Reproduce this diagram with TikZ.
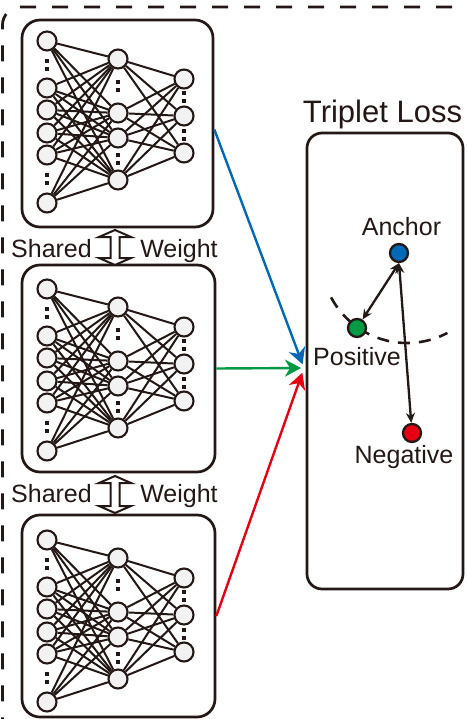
\documentclass[tikz,border=0pt]{standalone}
\usepackage{fontspec}
\setmainfont{Liberation Sans}
\usetikzlibrary{arrows.meta,calc}
\definecolor{ink}{HTML}{231815}
\definecolor{nfill}{HTML}{F2F2F2}
\definecolor{cblue}{HTML}{0068B7}
\definecolor{cgreen}{HTML}{009944}
\definecolor{cred}{HTML}{E60012}
\newcommand\mynet[2]{%
  \foreach \yy [count=\i] in {41,88,110,133,155,203}
    \node[neuron] (#1a\i) at (47,#2+\yy) {};
  \foreach \yy [count=\i] in {59,113,138,180}
    \node[neuron] (#1b\i) at (118,#2+\yy) {};
  \foreach \yy [count=\i] in {79,116,153}
    \node[neuron] (#1c\i) at (184,#2+\yy) {};
  \foreach \i in {1,...,6}{\foreach \j in {1,...,4}{\draw[conn] (#1a\i) -- (#1b\j);}}
  \foreach \i in {1,...,4}{\foreach \j in {1,...,3}{\draw[conn] (#1b\i) -- (#1c\j);}}
  \foreach \xx/\yy in {47/61,47/69,47/175,47/183,118/82,118/90,118/155,118/163,184/93,184/101,184/131,184/139}
    \node[vdot] at (\xx,#2+\yy) {};
}
\newcommand\sharedarr[3]{% x, ytop, ybot
  \draw[sharestyle] (#1,#2) -- (#1+16,#2+7) -- (#1+4.5,#2+7) -- (#1+4.5,#3-7)
    -- (#1+16,#3-7) -- (#1,#3) -- (#1-16,#3-7) -- (#1-4.5,#3-7) -- (#1-4.5,#2+7)
    -- (#1-16,#2+7) -- cycle;
}
\begin{document}
\begin{tikzpicture}[x=1pt,y=-1pt,
  neuron/.style={circle,draw=ink,fill=nfill,line width=2.1pt,minimum size=19pt,inner sep=0pt},
  conn/.style={draw=ink,line width=2pt},
  vdot/.style={rectangle,fill=ink,minimum size=3.2pt,inner sep=0pt},
  netbox/.style={rectangle,draw=ink,line width=2.7pt,rounded corners=18pt,inner sep=0pt},
  lossbox/.style={rectangle,draw=ink,line width=2.7pt,rounded corners=15pt,inner sep=0pt},
  outerbox/.style={draw=ink,line width=2.8pt,dash pattern=on 16pt off 16pt,rounded corners=18pt},
  sharestyle/.style={draw=ink,fill=white,line width=2pt,line join=miter},
  lbl/.style={font=\fontsize{25}{28}\selectfont,text=ink,anchor=base,inner sep=0pt},
  ttl/.style={font=\fontsize{31}{35}\selectfont,text=ink,anchor=base,inner sep=0pt},
  cpt/.style={circle,draw=ink,line width=2.3pt,minimum size=18pt,inner sep=0pt},
  carrow/.style={line width=2.4pt,-{Stealth[length=16pt,width=17pt,inset=5pt]}},
  darrow/.style={draw=ink,line width=2.3pt,{Stealth[length=10pt,width=9pt]}-{Stealth[length=10pt,width=9pt]}},
  arcstyle/.style={draw=ink,line width=2.6pt,dash pattern=on 12pt off 9pt}
]
\clip (0,0) rectangle (467,719);
\fill[white] (0,0) rectangle (467,719);
% outer dashed frame
\draw[outerbox] (612,7) -- (2.5,7) -- (2.5,800);
% network boxes
\node[netbox,minimum width=191pt,minimum height=207pt] (box1) at (117.5,123.5) {};
\node[netbox,minimum width=193pt,minimum height=207pt] (box2) at (118.5,368.5) {};
\node[netbox,minimum width=193pt,minimum height=202pt] (box3) at (118.5,616) {};
\mynet{A}{0}
\mynet{B}{248}
\mynet{C}{499}
% shared weights
\sharedarr{115}{230}{265}
\node[lbl] (sh1) at (51.5,257) {Shared};
\node[lbl] (we1) at (179,257) {Weight};
\sharedarr{115}{476}{513}
\node[lbl] (sh2) at (51.5,502) {Shared};
\node[lbl] (we2) at (179,502) {Weight};
% triplet loss box
\node[lossbox,minimum width=156pt,minimum height=456pt] (loss) at (385,361) {};
\node[ttl] (title) at (382.5,123) {Triplet Loss};
% margin arc
\draw[arcstyle] (407,257) ++(152:86) arc[start angle=152,end angle=62,radius=86];
% points
\node[cpt,fill=cblue] (anc) at (399,253) {};
\node[cpt,fill=cgreen] (pos) at (357,328) {};
\node[cpt,fill=cred] (neg) at (412,433) {};
\draw[darrow] (anc.south) -- (pos);
\draw[darrow] (anc.south) -- (neg);
\node[lbl] (lanc) at (401.5,235) {Anchor};
\node[lbl] (lpos) at (357,365) {Positive};
\node[lbl] (lneg) at (404,463) {Negative};
% colored connectors
\coordinate (conv) at (304,368);
\draw[carrow,cblue,shorten >=4pt] ([yshift=-6pt]box1.east) -- (conv);
\draw[carrow,cgreen,shorten >=3pt] (box2.east) -- (conv);
\draw[carrow,cred,shorten >=5pt] (box3.east) -- (conv);
\end{tikzpicture}
\end{document}
